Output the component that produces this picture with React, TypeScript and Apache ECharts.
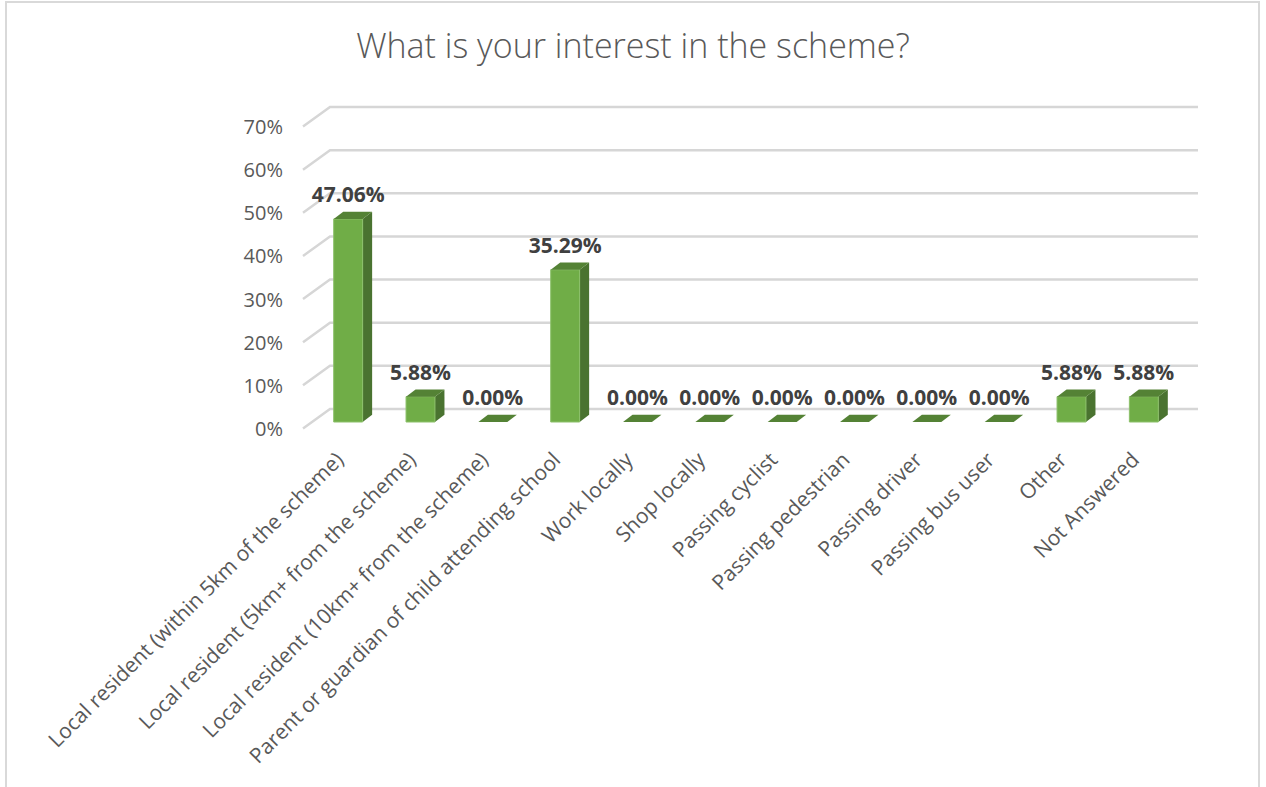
import React, { useEffect, useRef } from "react";
import * as echarts from "echarts";

const categories = [
  "Local resident (within 5km of the scheme)",
  "Local resident (5km+ from the scheme)",
  "Local resident (10km+ from the scheme)",
  "Parent or guardian of child attending school",
  "Work locally",
  "Shop locally",
  "Passing cyclist",
  "Passing pedestrian",
  "Passing driver",
  "Passing bus user",
  "Other",
  "Not Answered",
];
const values = [47.06, 5.88, 0, 35.29, 0, 0, 0, 0, 0, 0, 5.88, 5.88];
const yTicks = [0, 10, 20, 30, 40, 50, 60, 70];
const titleText = "What is your interest in the scheme?";

const FONT = '"Open Sans", "Liberation Sans", sans-serif';
const DEPTH_X = 27;
const DEPTH_Y = -19.5;
const BAR_OX = 9;
const BAR_OY = -6.5;
const SIDE_X = 9.5;
const SIDE_Y = -7.2;

export default function App() {
  const ref = useRef<HTMLDivElement>(null);
  useEffect(() => {
    if (!ref.current) return;
    const chart = echarts.init(ref.current, undefined, { renderer: "svg" });
    chart.setOption({
      animation: false,
      backgroundColor: "#ffffff",
      title: {
        text: titleText,
        left: "center",
        top: 23,
        textStyle: { fontFamily: FONT, fontSize: 34, fontWeight: 300, color: "#595959" },
      },
      graphic: [
        {
          type: "rect",
          shape: { x: 6, y: 2, width: 1253, height: 820 },
          style: { fill: "none", stroke: "#d9d9d9", lineWidth: 2 },
          silent: true,
        },
      ],
      grid: { left: 303, width: 868, top: 126.5, bottom: 358.5, containLabel: false },
      xAxis: {
        type: "category",
        data: categories,
        axisLine: { show: false },
        axisTick: { show: false },
        splitLine: { show: false },
        axisLabel: {
          interval: 0,
          rotate: 45,
          margin: 27,
          fontFamily: FONT,
          fontSize: 21,
          color: "#595959",
        },
      },
      yAxis: {
        type: "value",
        min: 0,
        max: 70,
        interval: 10,
        axisLine: { show: false },
        axisTick: { show: false },
        splitLine: { show: false },
        axisLabel: {
          formatter: "{value}%",
          margin: 20,
          fontFamily: FONT,
          fontSize: 20,
          color: "#595959",
        },
      },
      series: [
        {
          type: "custom",
          clip: false,
          z: 1,
          silent: true,
          data: yTicks.map((t) => [0, t]),
          renderItem: (params: any, api: any) => {
            const cs = params.coordSys;
            const y = api.coord([0, api.value(1)])[1];
            return {
              type: "polyline",
              shape: {
                points: [
                  [cs.x, y],
                  [cs.x + DEPTH_X, y + DEPTH_Y],
                  [cs.x + cs.width + DEPTH_X, y + DEPTH_Y],
                ],
              },
              style: { stroke: "#d6d6d6", lineWidth: 2.5, fill: "none" },
            };
          },
        },
        {
          type: "custom",
          clip: false,
          z: 2,
          data: values.map((v, i) => [i, v]),
          renderItem: (params: any, api: any) => {
            const i = api.value(0);
            const v = api.value(1);
            const base = api.coord([i, 0]);
            const top = api.coord([i, v]);
            const bw = api.size([1, 0])[0] * 0.4;
            const x0 = base[0] - bw / 2 + BAR_OX;
            const x1 = base[0] + bw / 2 + BAR_OX;
            const yb = base[1] + BAR_OY;
            const yt = top[1] + BAR_OY;
            const children: any[] = [];
            if (v > 0) {
              children.push({
                type: "polygon",
                shape: {
                  points: [
                    [x1, yt],
                    [x1 + SIDE_X, yt + SIDE_Y],
                    [x1 + SIDE_X, yb + SIDE_Y],
                    [x1, yb],
                  ],
                },
                style: { fill: "#4a7330" },
              });
              children.push({
                type: "rect",
                shape: { x: x0, y: yt, width: bw, height: yb - yt },
                style: { fill: "#70ad47", stroke: "#8cc06a", lineWidth: 1 },
              });
            }
            children.push({
              type: "polygon",
              shape: {
                points: [
                  [x0, yt],
                  [x0 + SIDE_X, yt + SIDE_Y],
                  [x1 + SIDE_X, yt + SIDE_Y],
                  [x1, yt],
                ],
              },
              style: { fill: "#548235" },
            });
            children.push({
              type: "text",
              x: (x0 + x1) / 2,
              y: yt - 25,
              style: {
                text: v.toFixed(2) + "%",
                fontFamily: FONT,
                fontSize: 21,
                fontWeight: "bold",
                fill: "#404040",
                align: "center",
                verticalAlign: "middle",
              },
            });
            return { type: "group", children };
          },
        },
      ],
    });
    return () => chart.dispose();
  }, []);
  return (
    <div
      ref={ref}
      style={{ position: "fixed", left: 0, top: 0, width: 1266, height: 787 }}
    />
  );
}
